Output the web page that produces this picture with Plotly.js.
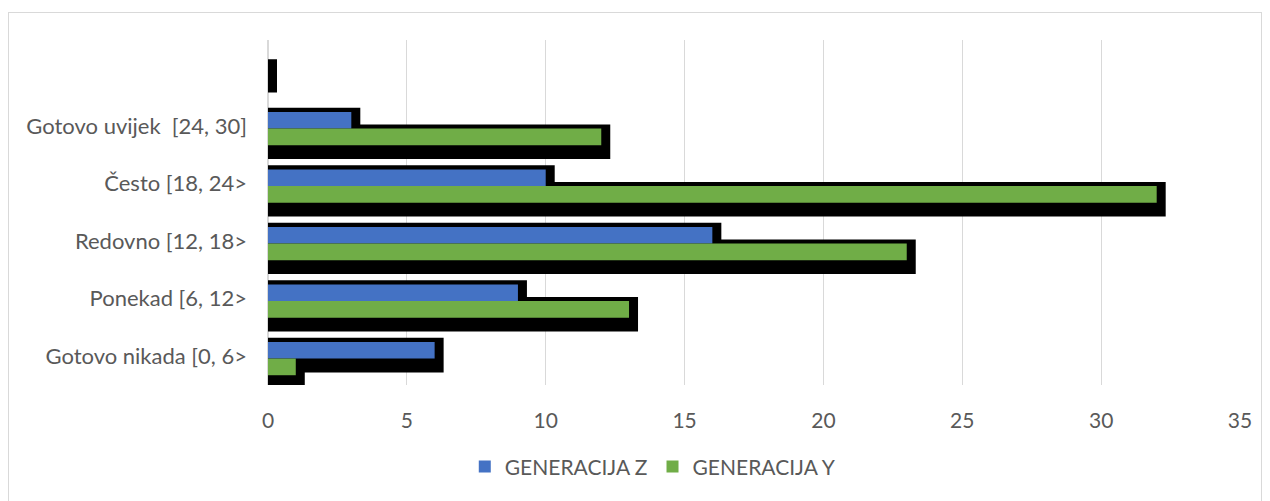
<!DOCTYPE html>
<html>
<head>
<meta charset="utf-8">
<script src="https://cdn.plot.ly/plotly-3.0.1.min.js"></script>
<style>
  html, body { margin: 0; padding: 0; background: #ffffff; }
  #frame { position: absolute; left: 8px; top: 12px; width: 1254px; height: 500px; border: 1px solid #d9d9d9; box-sizing: border-box; }
  #chart { position: absolute; left: 0; top: 0; width: 1270px; height: 501px; }
</style>
</head>
<body>
<div id="frame"></div>
<div id="chart"></div>
<script>
// Categories listed bottom to top
const categories = [
  "Gotovo nikada [0, 6>",
  "Ponekad [6, 12>",
  "Redovno [12, 18>",
  "Često [18, 24>",
  "Gotovo uvijek\u00a0\u00a0[24, 30]",
  " "
];
const genZ = [6, 9, 16, 10, 3, 0];
const genY = [1, 13, 23, 32, 12, 0];
const seriesNames = ["GENERACIJA Z", "GENERACIJA Y"];
const xTicks = [0, 5, 10, 15, 20, 25, 30, 35];

const blue = "#4472C4";
const green = "#70AD47";
const shadowLine = {color: "#000000", width: 18};

const traces = [
  // shadows
  {type: "bar", orientation: "h", y: categories, x: genZ, width: 0.29, offset: -0.125,
   marker: {color: "#000000", line: shadowLine}, showlegend: false, hoverinfo: "skip"},
  {type: "bar", orientation: "h", y: categories, x: genY, width: 0.29, offset: -0.415,
   marker: {color: "#000000", line: shadowLine}, showlegend: false, hoverinfo: "skip"},
  // bars
  {type: "bar", orientation: "h", name: seriesNames[0], y: categories, x: genZ, width: 0.29, offset: -0.04,
   marker: {color: blue, line: {width: 0}}, legendrank: 1},
  {type: "bar", orientation: "h", name: seriesNames[1], y: categories, x: genY, width: 0.29, offset: -0.33,
   marker: {color: green, line: {width: 0}}, legendrank: 2}
];

const layout = {
  width: 1270, height: 501,
  margin: {l: 268, r: 30, t: 40, b: 116},
  paper_bgcolor: "rgba(0,0,0,0)",
  plot_bgcolor: "rgba(0,0,0,0)",
  barmode: "overlay",
  font: {family: "Lato, 'Open Sans', sans-serif", size: 21, color: "#595959"},
  xaxis: {
    range: [0, 35], tickvals: xTicks, ticktext: xTicks.map(String),
    showgrid: true, gridcolor: "#d9d9d9", gridwidth: 1,
    zeroline: true, zerolinecolor: "#d9d9d9", zerolinewidth: 1.5,
    showline: false, ticks: "", ticklabelstandoff: 21, fixedrange: true
  },
  yaxis: {
    type: "category", categoryarray: categories, categoryorder: "array",
    range: [-0.5, 5.5],
    showgrid: false, zeroline: false, showline: false, ticks: "",
    tickfont: {size: 22},
    ticklabelstandoff: 20, fixedrange: true
  },
  showlegend: true,
  legend: {
    orientation: "h", xref: "container", yref: "container",
    x: 0.514, xanchor: "center", y: 0.068, yanchor: "middle",
    font: {size: 21, color: "#595959"}, itemwidth: 30, tracegroupgap: 0
  }
};

Plotly.newPlot("chart", traces, layout, {displayModeBar: false, staticPlot: true});
</script>
</body>
</html>
